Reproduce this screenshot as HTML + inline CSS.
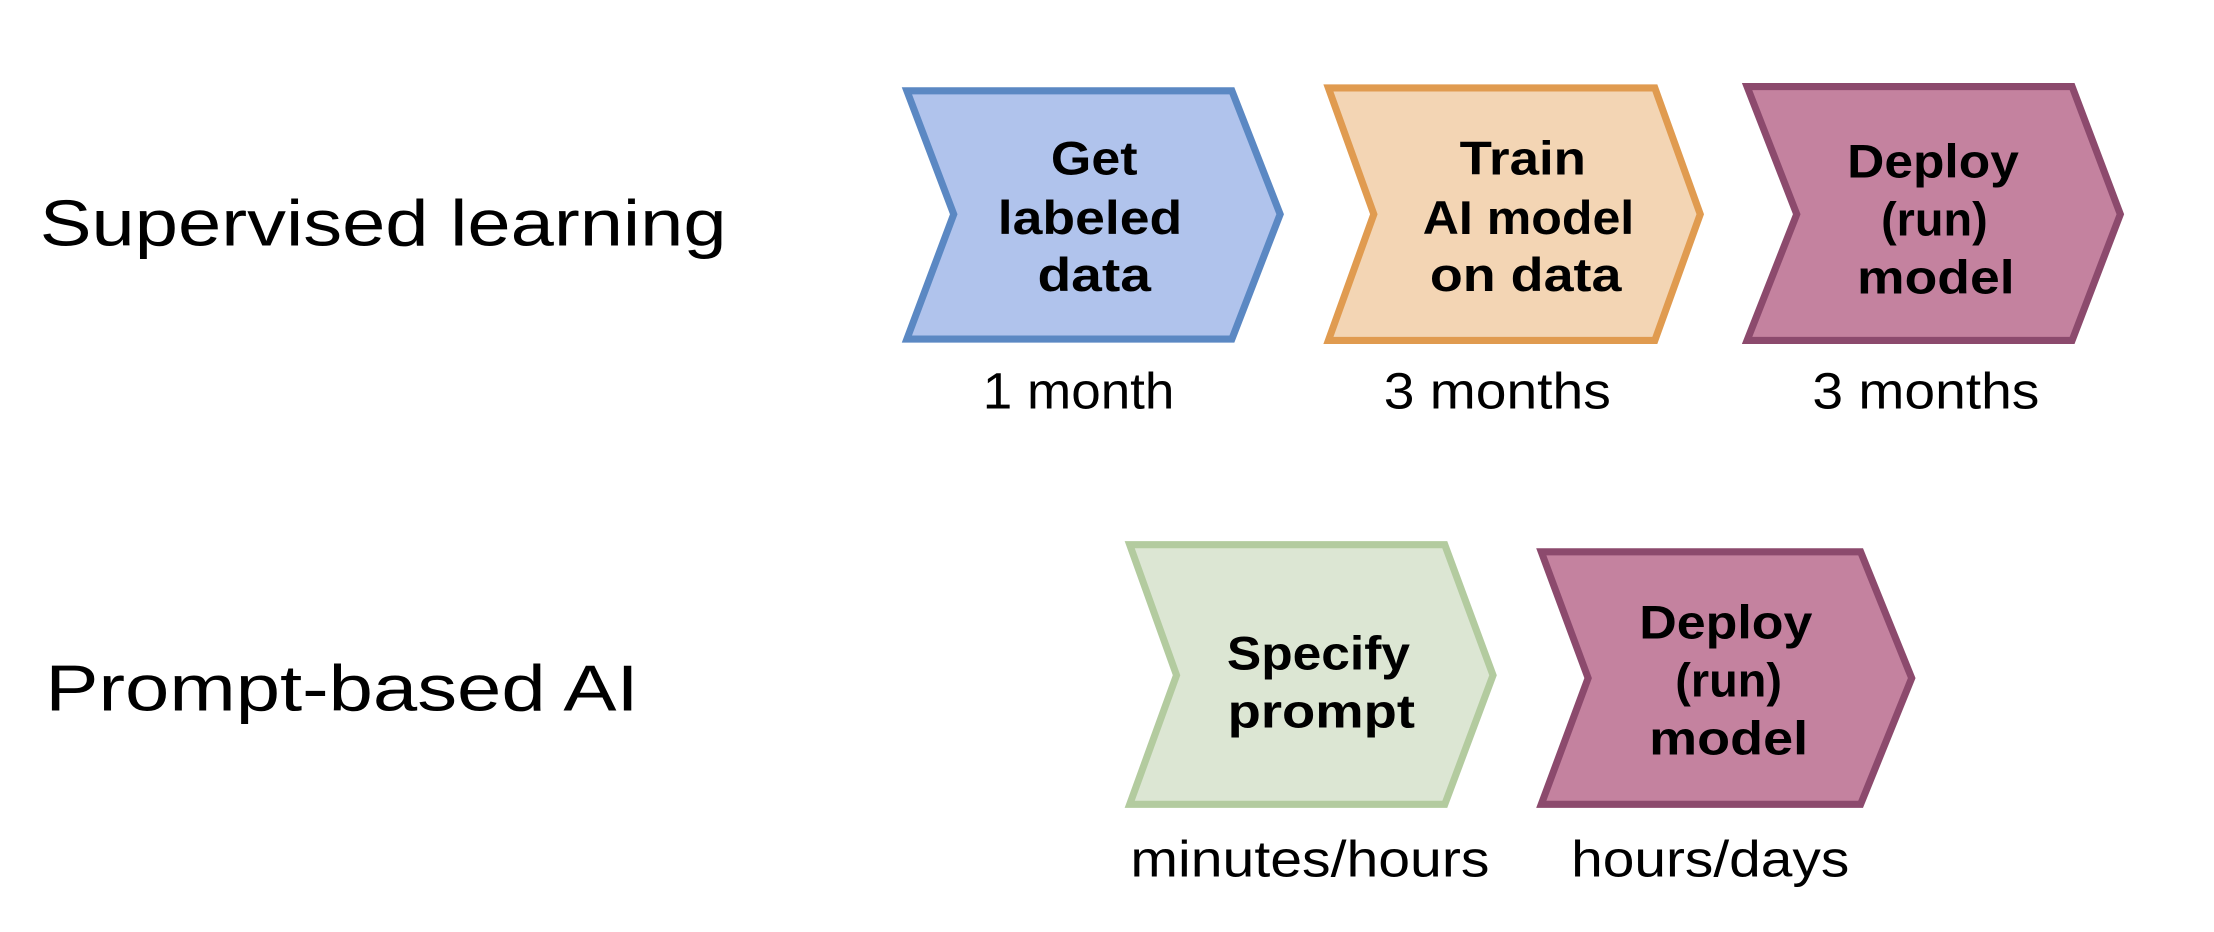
<!DOCTYPE html>
<html><head><meta charset="utf-8"><style>
html,body{margin:0;padding:0;background:#fff;}
svg{display:block;}
text{font-family:"Liberation Sans",sans-serif;fill:#000;}
.b{font-weight:bold;font-size:33px;text-anchor:middle;}
.l{font-size:36px;text-anchor:middle;}
.h{font-size:46px;}
</style></head><body>
<svg width="2214" height="932" viewBox="0 0 1560 657" preserveAspectRatio="none">
<text class="h" x="28" y="173" textLength="484" lengthAdjust="spacingAndGlyphs">Supervised learning</text>
<text class="h" x="32" y="501" textLength="418" lengthAdjust="spacingAndGlyphs">Prompt-based AI</text>

<polygon points="639,64 868,64 902,151 868,239 639,239 672,151" fill="#b0c3ec" stroke="#5b88c3" stroke-width="5"/>
<text class="b" x="771" y="123" textLength="61" lengthAdjust="spacingAndGlyphs">Get</text>
<text class="b" x="768" y="165" textLength="130" lengthAdjust="spacingAndGlyphs">labeled</text>
<text class="b" x="771" y="205" textLength="80" lengthAdjust="spacingAndGlyphs">data</text>
<text class="l" x="760" y="288" textLength="135" lengthAdjust="spacingAndGlyphs">1 month</text>

<polygon points="936,62 1166,62 1198,151 1166,240 936,240 968,151" fill="#f3d5b4" stroke="#e09b50" stroke-width="5"/>
<text class="b" x="1073" y="123" textLength="89" lengthAdjust="spacingAndGlyphs">Train</text>
<text class="b" x="1077" y="165" textLength="149" lengthAdjust="spacingAndGlyphs">AI model</text>
<text class="b" x="1075" y="205" textLength="135" lengthAdjust="spacingAndGlyphs">on data</text>
<text class="l" x="1055" y="288" textLength="160" lengthAdjust="spacingAndGlyphs">3 months</text>

<polygon points="1231,61 1460,61 1494,151 1460,240 1231,240 1266,151" fill="#c4829f" stroke="#8c4a6d" stroke-width="5"/>
<text class="b" x="1362" y="125" textLength="121" lengthAdjust="spacingAndGlyphs">Deploy</text>
<text class="b" x="1363" y="166">(run)</text>
<text class="b" x="1364" y="207" textLength="111" lengthAdjust="spacingAndGlyphs">model</text>
<text class="l" x="1357" y="288" textLength="160" lengthAdjust="spacingAndGlyphs">3 months</text>

<polygon points="796,384 1018,384 1052,476 1018,567 796,567 829,476" fill="#dce6d3" stroke="#b3cb9f" stroke-width="5"/>
<text class="b" x="929" y="472" textLength="129" lengthAdjust="spacingAndGlyphs">Specify</text>
<text class="b" x="931" y="513" textLength="132" lengthAdjust="spacingAndGlyphs">prompt</text>
<text class="l" x="923" y="618" textLength="253" lengthAdjust="spacingAndGlyphs">minutes/hours</text>

<polygon points="1086,389 1311,389 1347,478 1311,567 1086,567 1119,478" fill="#c4829f" stroke="#8c4a6d" stroke-width="5"/>
<text class="b" x="1216" y="450" textLength="122" lengthAdjust="spacingAndGlyphs">Deploy</text>
<text class="b" x="1218" y="491">(run)</text>
<text class="b" x="1218" y="532" textLength="112" lengthAdjust="spacingAndGlyphs">model</text>
<text class="l" x="1205" y="618" textLength="196" lengthAdjust="spacingAndGlyphs">hours/days</text>
</svg>
</body></html>
